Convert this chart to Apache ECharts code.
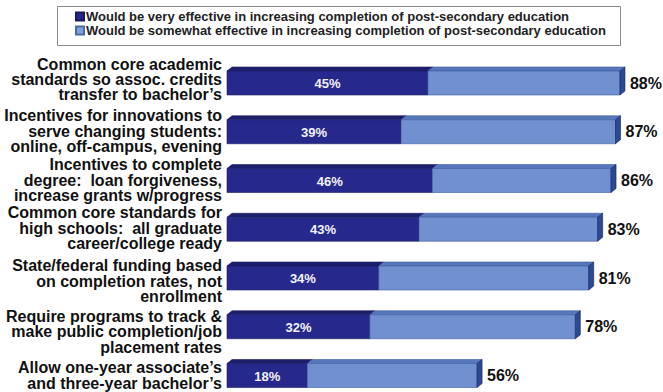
<!DOCTYPE html>
<html><head><meta charset="utf-8">
<script src="https://cdn.jsdelivr.net/npm/echarts@6/dist/echarts.min.js"></script>
<style>html,body{margin:0;padding:0;background:#fff}#c{width:663px;height:392px}</style>
</head><body><div id="c"></div>
<script>
// ---- data ----
const categories = [
  "Common core academic\nstandards so assoc. credits\ntransfer to bachelor’s",
  "Incentives for innovations to\nserve changing students:\nonline, off-campus, evening",
  "Incentives to complete\ndegree:  loan forgiveness,\nincrease grants w/progress",
  "Common core standards for\nhigh schools:  all graduate\ncareer/college ready",
  "State/federal funding based\non completion rates, not\nenrollment",
  "Require programs to track &\nmake public completion/job\nplacement rates",
  "Allow one-year associate’s\nand three-year bachelor’s"
];
const veryEffective = [45, 39, 46, 43, 34, 32, 18];
const totalEffective = [88, 87, 86, 83, 81, 78, 56];
const seriesNames = [
  "Would be very effective in increasing completion of post-secondary education",
  "Would be somewhat effective in increasing completion of post-secondary education"
];

// ---- styling ----
const FONT = "'Liberation Sans', Arial, sans-serif";
const labelShift = [-3.5, -0.75, -0.5, -1.25, 3, 5, 0];
const C = {
  darkFront: '#27288c', darkTop: '#1d1e6c', darkEdge: '#1a1b5e',
  lightFront: '#7090d0', lightTop: '#5677bb', lightEdge: '#3d5ca0', side: '#2b4a92'
};
const BH = 24, D = 5, H = 4;

function renderVery(params, api) {
  const cat = api.value(0);
  const p0 = api.coord([0, cat]);
  const p1 = api.coord([api.value(1), cat]);
  const yc = p0[1], yTop = yc - BH / 2;
  const x0 = p0[0], x1 = p1[0];
  return {
    type: 'group',
    children: [
      { type: 'polygon', shape: { points: [[x0, yTop], [x0 + D, yTop - H], [x1 + D, yTop - H], [x1, yTop]] },
        style: { fill: C.darkTop, stroke: C.darkEdge, lineWidth: 0.6 } },
      { type: 'rect', shape: { x: x0, y: yTop, width: x1 - x0, height: BH },
        style: { fill: C.darkFront, stroke: C.darkEdge, lineWidth: 0.6 } },
      { type: 'text', style: { x: (x0 + x1) / 2, y: yc + 0.5, text: api.value(1) + '%', fill: '#f2f2f8',
        font: 'bold 13px ' + FONT, align: 'center', verticalAlign: 'middle' } },
      { type: 'text', style: { x: x0 - 5, y: yc + labelShift[cat], text: categories[cat], fill: '#111',
        font: 'bold 16px ' + FONT, lineHeight: 15.4, align: 'right', verticalAlign: 'middle' } }
    ]
  };
}

function renderSomewhat(params, api) {
  const cat = api.value(0);
  const p1 = api.coord([api.value(1), cat]);
  const p2 = api.coord([api.value(2), cat]);
  const yc = p1[1], yTop = yc - BH / 2;
  const x1 = p1[0], x2 = p2[0];
  return {
    type: 'group',
    children: [
      { type: 'polygon', shape: { points: [[x1, yTop], [x1 + D, yTop - H], [x2 + D, yTop - H], [x2, yTop]] },
        style: { fill: C.lightTop, stroke: C.lightEdge, lineWidth: 0.6 } },
      { type: 'rect', shape: { x: x1, y: yTop, width: x2 - x1, height: BH },
        style: { fill: C.lightFront, stroke: C.lightEdge, lineWidth: 0.6 } },
      { type: 'polygon', shape: { points: [[x2, yTop], [x2 + D, yTop - H], [x2 + D, yTop - H + BH], [x2, yTop + BH]] },
        style: { fill: C.side, stroke: C.darkEdge, lineWidth: 0.6 } },
      { type: 'text', style: { x: x2 + D + 5, y: yc, text: api.value(2) + '%', fill: '#111',
        font: 'bold 16px ' + FONT, align: 'left', verticalAlign: 'middle' } }
    ]
  };
}

const chart = echarts.init(document.getElementById('c'), null, { renderer: 'svg' });
chart.setOption({
  animation: false,
  backgroundColor: '#fff',
  grid: { left: 227, width: 401.9, top: 34.25, bottom: 1.875, containLabel: false },
  xAxis: { type: 'value', min: 0, max: 90, show: false },
  yAxis: { type: 'value', min: -1, max: 6.3, inverse: true, show: false },
  legend: {
    data: seriesNames, orient: 'vertical', left: 75, top: 10, padding: 0,
    itemWidth: 8, itemHeight: 8, itemGap: 1, icon: 'rect', selectedMode: false,
    textStyle: { fontFamily: FONT, fontWeight: 'bold', fontSize: 13, color: '#222', padding: [0, 0, 0, -3] }
  },
  graphic: [{ type: 'rect', left: 55, top: 4, shape: { width: 563, height: 39 },
    style: { fill: 'none', stroke: '#8a8a8a', lineWidth: 1 }, silent: true }],
  series: [
    { name: seriesNames[0], type: 'custom', renderItem: renderVery,
      itemStyle: { color: C.darkFront, borderColor: C.darkEdge, borderWidth: 1 },
      encode: { y: 0, x: 1 },
      data: veryEffective.map((v, i) => [i, v]) },
    { name: seriesNames[1], type: 'custom', renderItem: renderSomewhat,
      itemStyle: { color: '#7fa3d9', borderColor: '#4a6aa8', borderWidth: 1 },
      encode: { y: 0, x: [1, 2] },
      data: veryEffective.map((v, i) => [i, v, totalEffective[i]]) }
  ]
});
</script></body></html>
